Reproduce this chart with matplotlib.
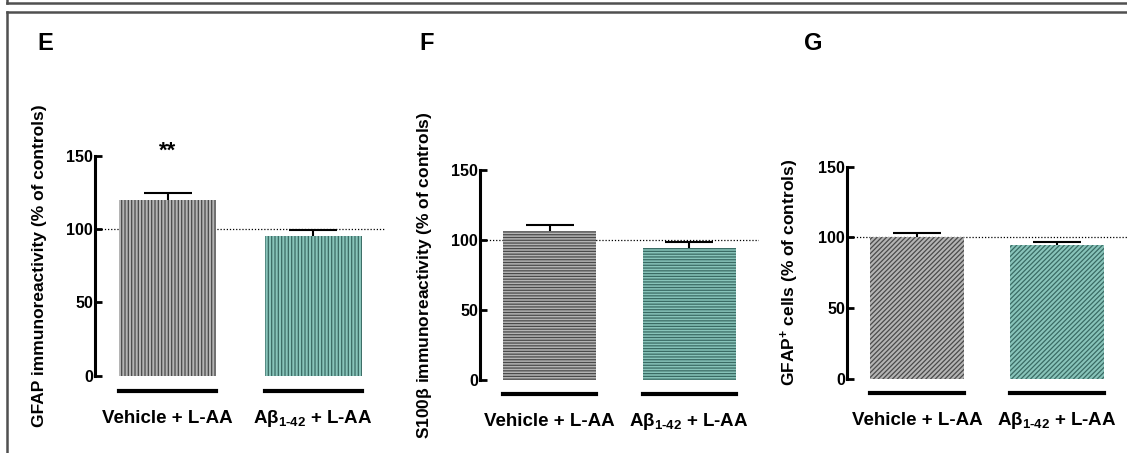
import matplotlib
matplotlib.use('Agg')
import matplotlib.pyplot as plt
import matplotlib.transforms as mtransforms
from matplotlib.lines import Line2D

plt.rcParams['font.family'] = ['Liberation Sans', 'DejaVu Sans']
plt.rcParams['font.weight'] = 'bold'
plt.rcParams['axes.labelweight'] = 'bold'
plt.rcParams['mathtext.fontset'] = 'custom'
plt.rcParams['mathtext.rm'] = 'Liberation Sans:bold'
plt.rcParams['mathtext.it'] = 'Liberation Sans:bold'
plt.rcParams['mathtext.bf'] = 'Liberation Sans:bold'
plt.rcParams['mathtext.default'] = 'rm'
plt.rcParams['hatch.linewidth'] = 0.9

# данные
categories = ['Vehicle + L-AA', r'A$\beta_{1\text{-}42}$ + L-AA']
gfap_mean = [120, 95.5]
gfap_sem = [4.5, 4.0]
s100_mean = [106.6, 94.5]
s100_sem = [4.0, 4.3]
cells_mean = [100, 95]
cells_sem = [3.0, 1.7]

panels = ['E', 'F', 'G']
ylabels = ['GFAP immunoreactivity (% of controls)',
           r'S100$\beta$ immunoreactivity (% of controls)',
           r'GFAP$^{+}$ cells (% of controls)']
means = [gfap_mean, s100_mean, cells_mean]
sems = [gfap_sem, s100_sem, cells_sem]
hatches = ['|||||', '-' * 6, '/' * 7]
stars = ['**', '', '']

face = ['#b4b4b4', '#88c4ba']
line = ['#4a4a4a', '#3a6b64']

W, H = 1127, 453
fig = plt.figure(figsize=(W / 100, H / 100), dpi=100)

# положение осей в пикселях: (лево, право, низ(0), верх(150))
boxes = [(95, 386, 375.7, 155.7), (480, 759, 380, 170), (847, 1127, 379, 166.7)]
letter_x = [45, 427, 813]

for k in range(3):
    l, r, b, t = boxes[k]
    ax = fig.add_axes([l / W, 1 - b / H, (r - l) / W, (b - t) / H])
    x = [0, 1]
    ax.axhline(100, color='black', lw=0.9, ls=(0, (1, 1.5)), zorder=1)
    # нижняя половина ошибки прячется за столбиком
    ax.errorbar(x, means[k], yerr=sems[k], fmt='none', ecolor='black',
                elinewidth=1.5, capsize=17, capthick=1.5, zorder=1.5)
    ax.bar(x, means[k], width=0.67, color=face, edgecolor=line, linewidth=0,
           hatch=hatches[k], zorder=2)
    ax.set_xlim(-0.5, 1.5)
    ax.set_ylim(0, 150)
    ax.set_yticks([0, 50, 100, 150])
    for s in ['top', 'right', 'bottom']:
        ax.spines[s].set_visible(False)
    ax.spines['left'].set_linewidth(2.2)
    ax.spines['left'].set_bounds(0, 150)
    ax.tick_params(axis='y', direction='in', length=5, width=2, labelsize=11.5, pad=1.5)
    ax.set_xticks([])

    trans = mtransforms.blended_transform_factory(ax.transData, ax.transAxes)
    for i in x:
        ax.add_line(Line2D([i - 0.335, i + 0.335], [-0.068, -0.068], transform=trans,
                           color='black', lw=3, clip_on=False))
        ax.text(i, -0.217, categories[i], transform=trans, ha='center', va='baseline',
                fontsize=13.5, fontweight='bold')

    if stars[k]:
        ax.text(0, 153, stars[k], ha='center', va='center', fontsize=16,
                fontweight='bold', clip_on=False)

    ax.set_ylabel(ylabels[k], fontsize=12.5)
    ax.yaxis.set_label_coords(-0.165, 0.5)

    fig.text(letter_x[k] / W, 1 - 43 / H, panels[k], ha='center', va='center',
             fontsize=17, fontweight='bold')

# рамка
fc = '#505050'
fig.add_artist(Line2D([7 / W, 1], [1 - 2.5 / H, 1 - 2.5 / H], color=fc, lw=1.8))
fig.add_artist(Line2D([7 / W, 7 / W], [1, 1 - 2.5 / H], color=fc, lw=1.8))
fig.add_artist(Line2D([7 / W, 1], [1 - 11.5 / H, 1 - 11.5 / H], color=fc, lw=1.8))
fig.add_artist(Line2D([7 / W, 7 / W], [1 - 11.5 / H, 0], color=fc, lw=1.8))

fig.savefig('out.png', dpi=100)
